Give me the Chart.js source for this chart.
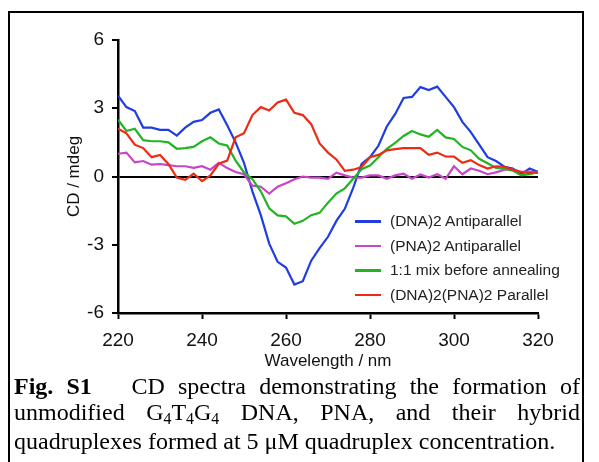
<!DOCTYPE html>
<html>
<head>
<meta charset="utf-8">
<script src="https://cdn.jsdelivr.net/npm/chart.js@4.4.1/dist/chart.umd.min.js"></script>
<style>
  body { margin: 0; background: #fff; width: 599px; height: 462px; overflow: hidden; position: relative; }
  #frame { position: absolute; left: 8px; top: 11px; width: 572px; height: 500px; border: 2px solid #000; }
  #chart { position: absolute; left: 0; top: 0; }
  #legend { position: absolute; left: 355px; top: 209px; font-family: "Liberation Sans", Arial, sans-serif; font-size: 15.5px; color: #222; }
  .row { height: 24.6px; display: flex; align-items: center; }
  .swatch { width: 26px; height: 2.5px; margin-right: 9px; }
  #caption { position: absolute; left: 14px; top: 373px; width: 566px; font-family: "Liberation Serif", "Times New Roman", serif; font-size: 24px; line-height: 26px; text-align: justify; color: #000; }
  #caption sub { font-size: 0.66em; vertical-align: baseline; position: relative; top: 0.25em; }
</style>
</head>
<body>
<div id="frame"></div>
<canvas id="chart" width="599" height="380"></canvas>
<div id="legend"></div>
<div id="caption"><b>Fig. S1</b>&nbsp;&nbsp; CD spectra demonstrating the formation of unmodified G<sub>4</sub>T<sub>4</sub>G<sub>4</sub> DNA, PNA, and their hybrid quadruplexes formed at 5 μM quadruplex concentration.</div>
<script>
// wavelength in nm, every 2 nm
const wavelengths = [220, 222, 224, 226, 228, 230, 232, 234, 236, 238,
  240, 242, 244, 246, 248, 250, 252, 254, 256, 258,
  260, 262, 264, 266, 268, 270, 272, 274, 276, 278,
  280, 282, 284, 286, 288, 290, 292, 294, 296, 298,
  300, 302, 304, 306, 308, 310, 312, 314, 316, 318, 320];

// CD in mdeg
const dnaAnti = [3.55, 3.05, 2.88, 2.15, 2.15, 2.05, 2.05, 1.8, 2.15, 2.4,
  2.48, 2.8, 2.95, 2.25, 1.5, 0.6, -0.65, -1.7, -2.95, -3.75,
  -4.0, -4.75, -4.6, -3.7, -3.15, -2.65, -1.95, -1.42, -0.5, 0.55,
  0.85, 1.35, 2.2, 2.75, 3.45, 3.5, 3.93, 3.8, 3.95, 3.5,
  3.05, 2.4, 1.95, 1.4, 0.85, 0.68, 0.43, 0.35, 0.1, 0.35, 0.2];

const pnaAnti = [1.0, 1.05, 0.62, 0.68, 0.52, 0.55, 0.5, 0.45, 0.45, 0.38,
  0.45, 0.3, 0.6, 0.37, 0.2, 0.1, -0.4, -0.45, -0.75, -0.45,
  -0.3, -0.12, 0.0, -0.05, -0.05, -0.1, 0.17, 0.05, -0.05, -0.05,
  0.05, 0.05, -0.1, 0.05, 0.12, -0.1, 0.09, -0.05, 0.1, -0.1,
  0.45, 0.1, 0.35, 0.25, 0.1, 0.18, 0.3, 0.3, 0.2, 0.22, 0.15];

const mixBefore = [2.5, 2.0, 2.1, 1.6, 1.55, 1.55, 1.5, 1.22, 1.25, 1.3,
  1.55, 1.72, 1.45, 1.36, 0.7, 0.18, -0.12, -0.65, -1.4, -1.71,
  -1.75, -2.08, -1.95, -1.7, -1.6, -1.15, -0.75, -0.52, -0.1, 0.32,
  0.48, 0.85, 1.22, 1.48, 1.78, 2.0, 1.85, 1.75, 2.05, 1.72,
  1.65, 1.3, 1.15, 0.78, 0.58, 0.38, 0.34, 0.26, 0.05, 0.1, 0.19];

const hybridPar = [2.1, 1.9, 1.4, 1.25, 0.85, 0.95, 0.55, -0.05, -0.15, 0.12,
  -0.2, 0.05, 0.56, 0.7, 1.72, 1.9, 2.7, 3.05, 2.9, 3.25,
  3.38, 2.8, 2.7, 2.3, 1.45, 1.05, 0.75, 0.25, 0.3, 0.42,
  0.85, 0.95, 1.15, 1.2, 1.25, 1.25, 1.25, 0.95, 1.05, 0.88,
  0.87, 0.6, 0.72, 0.5, 0.35, 0.45, 0.42, 0.3, 0.19, 0.15, 0.19];

const seriesNames = ['(DNA)2 Antiparallel', '(PNA)2 Antiparallel', '1:1 mix before annealing', '(DNA)2(PNA)2 Parallel'];
const seriesValues = [dnaAnti, pnaAnti, mixBefore, hybridPar];
const seriesColors = ['#1f3de0', '#c844c8', '#22b422', '#ee2a14'];

const tickFont = { family: '"Liberation Sans", Arial, sans-serif', size: 19 };
const titleFont = { family: '"Liberation Sans", Arial, sans-serif', size: 17 };

function main() {
    const canvas = document.querySelector('#chart');

    new Chart(canvas.getContext('2d'), {
        type: 'line',
        data: {
            datasets: seriesValues.map((vals, i) => ({
                label: seriesNames[i],
                data: wavelengths.map((w, j) => ({ x: w, y: vals[j] })),
                borderColor: seriesColors[i],
                backgroundColor: seriesColors[i],
                borderWidth: 2.2,
                pointRadius: 0,
                tension: 0,
                // last series on top, like the original
                order: seriesValues.length - i
            }))
        },
        options: {
            responsive: false,
            animation: false,
            layout: { padding: { left: 60, right: 61, top: 40, bottom: 7 } },
            plugins: { legend: { display: false }, tooltip: { enabled: false } },
            scales: {
                x: {
                    type: 'linear', min: 220, max: 320,
                    ticks: { stepSize: 20, color: '#111', font: tickFont, padding: 10 },
                    grid: { drawOnChartArea: false, tickLength: 6, tickColor: '#000', tickWidth: 2 },
                    border: { color: '#000', width: 2.5 },
                    title: { display: true, text: 'Wavelength / nm', color: '#111', font: titleFont, padding: { top: 0, bottom: 1 } },
                    afterFit: s => { s.height = 60; }
                },
                y: {
                    min: -6, max: 6,
                    ticks: { stepSize: 3, color: '#111', font: tickFont, padding: 8 },
                    grid: {
                        color: ctx => (ctx.tick && ctx.tick.value === 0) ? '#000' : 'rgba(0,0,0,0)',
                        lineWidth: 2, tickLength: 6, tickColor: '#000', tickWidth: 2
                    },
                    border: { color: '#000', width: 2.5 },
                    title: { display: true, text: 'CD / mdeg', color: '#111', font: titleFont },
                    afterFit: s => { s.width = 58; }
                }
            }
        }
    });

    // legend, built from the same names and colours
    const legend = document.querySelector('#legend');
    seriesNames.forEach((name, i) => {
        const row = document.createElement('div');
        row.className = 'row';
        const sw = document.createElement('span');
        sw.className = 'swatch';
        sw.style.background = seriesColors[i];
        const label = document.createElement('span');
        label.textContent = name;
        row.appendChild(sw);
        row.appendChild(label);
        legend.appendChild(row);
    });
}

main()
</script>
</body>
</html>
